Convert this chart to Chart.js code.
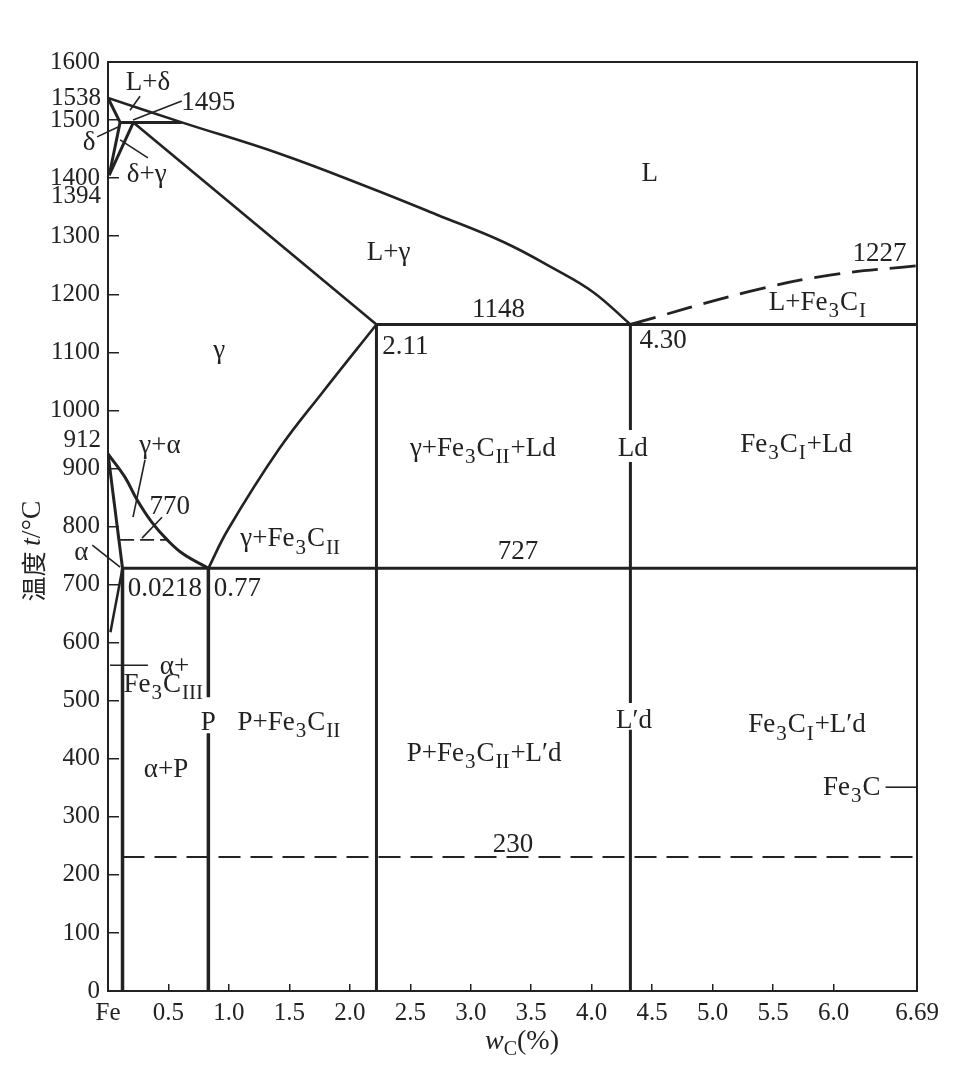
<!DOCTYPE html>
<html><head><meta charset="utf-8">
<script src="https://cdn.jsdelivr.net/npm/chart.js@4.4.1/dist/chart.umd.min.js"></script>
<style>html,body{margin:0;padding:0;background:#fff}canvas{display:block}</style>
</head><body>
<canvas id="c" width="961" height="1067"></canvas>
<script>
// ---------- data (carbon % , temperature °C) ----------
const xTickValues = [0, 0.5, 1, 1.5, 2, 2.5, 3, 3.5, 4, 4.5, 5, 5.5, 6, 6.69];
const xTickLabels = ['Fe', '0.5', '1.0', '1.5', '2.0', '2.5', '3.0', '3.5', '4.0', '4.5', '5.0', '5.5', '6.0', '6.69'];
const yTickValues = [0, 100, 200, 300, 400, 500, 600, 700, 800, 900, 1000, 1100, 1200, 1300, 1400, 1500, 1600];
const yExtraTickValues = [1538, 1394, 912];
const yExtraTickLabels = ['1538', '1394', '912'];

// solid phase boundaries
const liquidusABC = [[0, 1538], [0.61, 1496], [1.42, 1442], [2.17, 1383], [2.72, 1337], [3.27, 1290], [3.68, 1245], [4.01, 1204], [4.32, 1148]];
const lineAH = [[0, 1538], [0.10, 1496]];
const lineHN = [[0.10, 1496], [0.01, 1405]];
const lineJN = [[0.21, 1496], [0.01, 1405]];
const lineHJB = [[0.10, 1496], [0.61, 1496]];
const lineJE = [[0.21, 1496], [2.22, 1148]];
const lineECF = [[2.22, 1148], [6.69, 1148]];
const lineGS = [[0, 925], [0.14, 885], [0.24, 846], [0.36, 808], [0.49, 777], [0.62, 753], [0.83, 728]];
const lineGP = [[0, 925], [0.12, 728]];
const lineES = [[0.83, 728], [0.99, 794], [1.41, 932], [1.77, 1030], [2.22, 1148]];
const linePSK = [[0.12, 728], [6.69, 728]];
const linePQ = [[0.12, 728], [0.02, 618]];
const lineP = [[0.12, 728], [0.12, 0]];
const lineSUpper = [[0.83, 728], [0.83, 506]];
const lineSLower = [[0.83, 444], [0.83, 0]];
const lineE = [[2.22, 1148], [2.22, 0]];
const lineCTop = [[4.32, 1148], [4.32, 966]];
const lineCMid = [[4.32, 911], [4.32, 496]];
const lineCLow = [[4.32, 450], [4.32, 0]];
// dashed lines
const lineCD = [[4.32, 1148], [5.29, 1204], [5.97, 1233], [6.69, 1249]];
const line230 = [[0.12, 231], [6.69, 231]];
const line770 = [[0.10, 777], [0.49, 777]];
// leader lines
const leaderLdelta = [[0.265, 1541], [0.182, 1517]];
const leader1495 = [[0.61, 1533], [0.207, 1500]];
const leaderDelta = [[-0.09, 1471], [0.083, 1488]];
const leaderDeltaGamma = [[0.10, 1466], [0.33, 1435]];
const leaderGammaAlpha = [[0.306, 915], [0.207, 816]];
const leader770 = [[0.281, 780], [0.447, 816]];
const leaderAlpha = [[-0.13, 768], [0.10, 730]];
const leaderAlphaFe3C = [[0.017, 561], [0.33, 561]];
const leaderFe3C = [[6.43, 351], [6.69, 351]];

// region / point labels: [text, x, y]   (_x or _{..} = subscript)
const labelTexts = ['L+δ', '1495', 'δ', 'δ+γ', 'γ+α', '770', 'α', '0.0218', '0.77', 'α+', 'Fe_3C_{III}', 'P', 'P+Fe_3C_{II}', 'α+P', 'γ+Fe_3C_{II}', 'γ', 'L+γ', 'L', '1148', '2.11', '4.30', '1227', 'L+Fe_3C_I', 'γ+Fe_3C_{II}+Ld', 'Ld', 'Fe_3C_I+Ld', '727', 'L′d', 'Fe_3C_I+L′d', 'P+Fe_3C_{II}+L′d', 'Fe_3C', '230'];
const labelX = [0.33, 0.83, -0.157, 0.32, 0.43, 0.51, -0.22, 0.47, 1.07, 0.55, 0.46, 0.83, 1.50, 0.48, 1.51, 0.92, 2.32, 4.48, 3.23, 2.46, 4.59, 6.38, 5.87, 3.10, 4.34, 5.69, 3.39, 4.35, 5.78, 3.11, 6.15, 3.35];
const labelY = [1567, 1533, 1464, 1409, 942, 837, 758, 696, 696, 561, 530, 465, 465, 384, 781, 1106, 1275, 1411, 1176, 1113, 1123, 1273, 1188, 937, 937, 944, 760, 468, 461, 412, 353, 255];

// ---------- styling ----------
const INK = '#222';
const SERIF = '"Liberation Serif", "DejaVu Serif", serif';
const FS = 27;
const pts = a => a.map(p => ({x: p[0], y: p[1]}));
function ds(arr, opt) {
  return Object.assign({data: pts(arr), showLine: true, borderColor: INK, backgroundColor: INK,
    borderWidth: 3, pointRadius: 0, pointHoverRadius: 0, fill: false, tension: 0}, opt || {});
}
const curve = {tension: 0.4};
const datasets = [
  ds(liquidusABC, Object.assign({borderWidth: 2.6}, curve)),
  ds(lineAH), ds(lineHN), ds(lineJN), ds(lineHJB), ds(lineJE, {borderWidth: 2.6}), ds(lineECF),
  ds(lineGS, curve), ds(lineGP), ds(lineES, Object.assign({borderWidth: 2.6}, curve)),
  ds(linePSK), ds(linePQ, {borderWidth: 2.5}), ds(lineP, {borderWidth: 3.5}),
  ds(lineSUpper, {borderWidth: 3.5}), ds(lineSLower, {borderWidth: 3.5}), ds(lineE),
  ds(lineCTop), ds(lineCMid), ds(lineCLow),
  ds(lineCD, Object.assign({borderWidth: 2.8, borderDash: [26, 12]}, curve)),
  ds(line230, {borderWidth: 2, borderDash: [22, 10]}),
  ds(line770, {borderWidth: 1.8, borderDash: [14, 6]}),
  ds(leaderLdelta, {borderWidth: 1.6}), ds(leader1495, {borderWidth: 1.6}),
  ds(leaderDelta, {borderWidth: 1.6, clip: false}), ds(leaderDeltaGamma, {borderWidth: 1.6}),
  ds(leaderGammaAlpha, {borderWidth: 1.6}), ds(leader770, {borderWidth: 1.6}),
  ds(leaderAlpha, {borderWidth: 1.6, clip: false}), ds(leaderAlphaFe3C, {borderWidth: 1.6}),
  ds(leaderFe3C, {borderWidth: 1.6})
];

function parseRich(s) {
  const out = []; let buf = ''; let i = 0;
  while (i < s.length) {
    if (s[i] === '_') {
      if (buf) { out.push({t: buf, sub: false}); buf = ''; }
      if (s[i + 1] === '{') { const j = s.indexOf('}', i); out.push({t: s.slice(i + 2, j), sub: true}); i = j + 1; }
      else { out.push({t: s[i + 1], sub: true}); i += 2; }
    } else { buf += s[i]; i++; }
  }
  if (buf) out.push({t: buf, sub: false});
  return out;
}
function drawRich(ctx, s, cx, cy, size) {
  const segs = parseRich(s);
  const subSize = Math.round(size * 0.76);
  const gap = 1;
  let w = 0;
  segs.forEach(g => { ctx.font = (g.sub ? subSize : size) + 'px ' + SERIF; g.w = ctx.measureText(g.t).width + (g.sub ? 2 * gap : 0); w += g.w; });
  let x = cx - w / 2;
  const base = cy + size * 0.33;
  ctx.textAlign = 'left'; ctx.textBaseline = 'alphabetic';
  segs.forEach(g => {
    ctx.font = (g.sub ? subSize : size) + 'px ' + SERIF;
    ctx.fillText(g.t, x + (g.sub ? gap : 0), g.sub ? base + size * 0.27 : base);
    x += g.w;
  });
}

const framePlugin = {
  id: 'frame',
  beforeDraw(chart) {
    const c = chart.ctx; c.save(); c.fillStyle = '#fff'; c.fillRect(0, 0, chart.width, chart.height); c.restore();
  },
  afterDatasetsDraw(chart) {
    const {ctx, chartArea: a} = chart;
    ctx.save(); ctx.strokeStyle = INK; ctx.lineWidth = 2;
    ctx.strokeRect(a.left, a.top, a.right - a.left, a.bottom - a.top);
    ctx.restore();
  }
};
const extraLabelOffset = [0, 15, -21];
const labelPlugin = {
  id: 'labels',
  afterDraw(chart) {
    const {ctx} = chart; const xs = chart.scales.x, ys = chart.scales.y;
    ctx.save(); ctx.fillStyle = INK;
    labelTexts.forEach((t, i) => drawRich(ctx, t, xs.getPixelForValue(labelX[i]), ys.getPixelForValue(labelY[i]), FS));
    // extra y tick labels
    ctx.font = '25px ' + SERIF; ctx.textAlign = 'right'; ctx.textBaseline = 'middle';
    yExtraTickValues.forEach((v, i) => ctx.fillText(yExtraTickLabels[i], 101, ys.getPixelForValue(v) + extraLabelOffset[i]));
    // y axis title (rotated)
    ctx.save(); ctx.translate(33, 551); ctx.rotate(-Math.PI / 2);
    const parts = [{t: '温度 ', f: '25px "Noto Sans CJK SC", sans-serif'}, {t: 't', f: 'italic 28px ' + SERIF}, {t: '/°C', f: '28px ' + SERIF}];
    let tw = 0; parts.forEach(p => { ctx.font = p.f; p.w = ctx.measureText(p.t).width; tw += p.w; });
    let px = -tw / 2; ctx.textAlign = 'left'; ctx.textBaseline = 'middle';
    parts.forEach(p => { ctx.font = p.f; ctx.fillText(p.t, px, 0); px += p.w; });
    ctx.restore();
    // x axis title
    ctx.textAlign = 'left'; ctx.textBaseline = 'alphabetic';
    const xp = [{t: 'w', f: 'italic 28px ' + SERIF, dy: 0}, {t: 'C', f: '20px ' + SERIF, dy: 6}, {t: '(%)', f: '28px ' + SERIF, dy: 0}];
    let xw = 0; xp.forEach(p => { ctx.font = p.f; p.w = ctx.measureText(p.t).width; xw += p.w; });
    let qx = 522 - xw / 2;
    xp.forEach(p => { ctx.font = p.f; ctx.fillText(p.t, qx, 1049 + p.dy); qx += p.w; });
    ctx.restore();
  }
};

new Chart(document.getElementById('c'), {
  type: 'scatter',
  data: {datasets},
  options: {
    responsive: false, animation: false, devicePixelRatio: 1,
    layout: {padding: {top: 62, right: 44, left: 0, bottom: 0}},
    plugins: {legend: {display: false}, tooltip: {enabled: false}},
    events: [],
    scales: {
      x: {
        type: 'linear', min: 0, max: 6.69, position: 'bottom',
        afterBuildTicks: s => { s.ticks = xTickValues.map(v => ({value: v})); },
        afterFit: s => { s.height = 76; },
        ticks: {callback: v => xTickLabels[xTickValues.indexOf(v)], font: {family: SERIF, size: 25}, color: INK, padding: 14, maxRotation: 0, minRotation: 0, autoSkip: false},
        grid: {drawOnChartArea: false, drawTicks: true, tickLength: -7, color: INK, lineWidth: 1.5},
        border: {display: false}
      },
      y: {
        type: 'linear', min: 0, max: 1600, position: 'left',
        afterBuildTicks: s => { s.ticks = yTickValues.map(v => ({value: v})); },
        afterFit: s => { s.width = 108; },
        ticks: {callback: v => String(v), font: {family: SERIF, size: 25}, color: INK, padding: 19, autoSkip: false},
        grid: {drawOnChartArea: false, drawTicks: true, tickLength: -11, color: INK, lineWidth: 1.5},
        border: {display: false}
      }
    }
  },
  plugins: [framePlugin, labelPlugin]
});
</script>
</body></html>
